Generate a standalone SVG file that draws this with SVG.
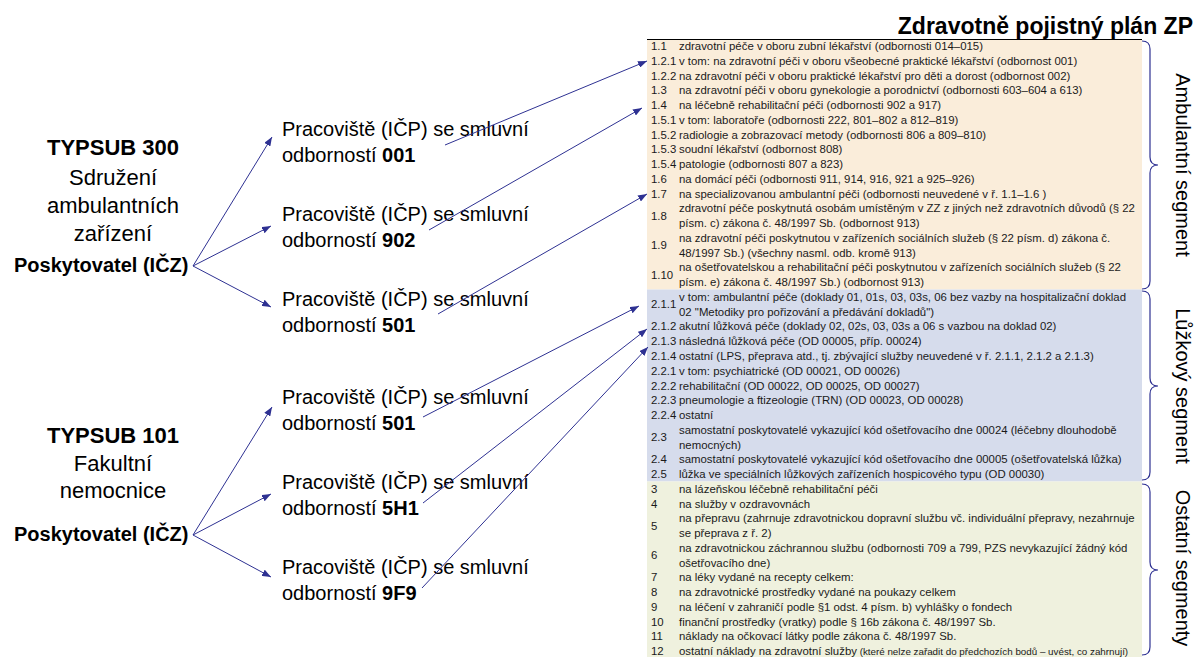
<svg xmlns="http://www.w3.org/2000/svg" width="1200" height="657" viewBox="0 0 1200 657">
<style>
.t{font-family:"Liberation Sans",Arial,sans-serif;font-size:11.4px;fill:#1a1a1a;white-space:pre}
.sm{font-size:9.8px}
.lbl{font-family:"Liberation Sans",Arial,sans-serif;fill:#000}
.b{font-weight:bold}
.conn{stroke:#2E3192;stroke-width:1;fill:none;marker-end:url(#ah)}
.brace{stroke:#2E3192;stroke-width:1.2;fill:none}
.seg{font-family:"Liberation Sans",Arial,sans-serif;font-size:20px;fill:#000}
</style>
<defs>
<marker id="ah" viewBox="0 0 9 7" refX="9" refY="3.5" markerWidth="9" markerHeight="7" markerUnits="userSpaceOnUse" orient="auto">
<path d="M0,0 L9,3.5 L0,7 z" fill="#2E3192"/>
</marker>
</defs>
<rect width="1200" height="657" fill="#fff"/>

<g id="title">
<text class="lbl b" x="1193" y="34" font-size="23" text-anchor="end">Zdravotně pojistný plán ZP</text>
</g>

<g id="table">
<rect x="647" y="39" width="495" height="250.5" fill="#FAEDDA"/>
<rect x="647" y="289.5" width="495" height="192" fill="#D6DCEC"/>
<rect x="647" y="481.5" width="495" height="176" fill="#EFF1DE"/>
<line x1="647" y1="39.5" x2="1142" y2="39.5" stroke="#000" stroke-width="1.2"/>
<g class="t" xml:space="preserve">
<text x="651" y="50">1.1</text><text x="679" y="50">zdravotní péče v oboru zubní lékařství (odbornosti 014–015)</text>
<text x="651" y="64.8">1.2.1</text><text x="679" y="64.8">v tom:  na zdravotní péči v oboru všeobecné praktické lékařství (odbornost 001)</text>
<text x="651" y="79.5">1.2.2</text><text x="679" y="79.5">na zdravotní péči v oboru praktické lékařství pro děti a dorost (odbornost 002)</text>
<text x="651" y="94.3">1.3</text><text x="679" y="94.3">na zdravotní péči v oboru gynekologie a porodnictví (odbornosti 603–604 a 613)</text>
<text x="651" y="109">1.4</text><text x="679" y="109">na léčebně rehabilitační péči (odbornosti 902 a 917)</text>
<text x="651" y="123.8">1.5.1</text><text x="679" y="123.8">v tom:  laboratoře (odbornosti 222, 801–802 a 812–819)</text>
<text x="651" y="138.6">1.5.2</text><text x="679" y="138.6">radiologie a zobrazovací metody (odbornosti 806 a 809–810)</text>
<text x="651" y="153.3">1.5.3</text><text x="679" y="153.3">soudní lékařství (odbornost 808)</text>
<text x="651" y="168.1">1.5.4</text><text x="679" y="168.1">patologie (odbornosti 807 a 823)</text>
<text x="651" y="182.8">1.6</text><text x="679" y="182.8">na domácí péči (odbornosti 911, 914, 916, 921 a 925–926)</text>
<text x="651" y="197.6">1.7</text><text x="679" y="197.6">na specializovanou ambulantní péči (odbornosti neuvedené v ř. 1.1–1.6 )</text>
<text x="651" y="219.8">1.8</text><text x="679" y="212.4">zdravotní péče poskytnutá osobám umístěným v ZZ z jiných než zdravotních důvodů (§ 22</text><text x="679" y="227.1">písm. c) zákona č. 48/1997 Sb. (odbornost 913)</text>
<text x="651" y="249.3">1.9</text><text x="679" y="241.9">na zdravotní péči poskytnutou v zařízeních sociálních služeb (§ 22 písm. d) zákona č.</text><text x="679" y="256.6">48/1997 Sb.) (všechny nasml. odb. kromě 913)</text>
<text x="651" y="278.8">1.10</text><text x="679" y="271.4">na ošetřovatelskou a rehabilitační péči poskytnutou v zařízeních sociálních služeb (§ 22</text><text x="679" y="286.2">písm. e) zákona č. 48/1997 Sb.) (odbornost 913)</text>
<text x="651" y="308.3">2.1.1</text><text x="679" y="300.9">v tom:  ambulantní péče (doklady 01, 01s, 03, 03s, 06 bez vazby na hospitalizační doklad</text><text x="679" y="315.7">02 "Metodiky pro pořizování a předávání dokladů")</text>
<text x="651" y="330.4">2.1.2</text><text x="679" y="330.4">akutní lůžková péče (doklady 02, 02s, 03, 03s a 06 s vazbou na doklad 02)</text>
<text x="651" y="345.2">2.1.3</text><text x="679" y="345.2">následná lůžková péče (OD 00005, příp. 00024)</text>
<text x="651" y="360">2.1.4</text><text x="679" y="360">ostatní (LPS, přeprava atd., tj. zbývající služby neuvedené v ř. 2.1.1, 2.1.2 a 2.1.3)</text>
<text x="651" y="374.7">2.2.1</text><text x="679" y="374.7">v tom:  psychiatrické (OD 00021, OD 00026)</text>
<text x="651" y="389.5">2.2.2</text><text x="679" y="389.5">rehabilitační (OD 00022, OD 00025, OD 00027)</text>
<text x="651" y="404.2">2.2.3</text><text x="679" y="404.2">pneumologie a ftizeologie (TRN) (OD 00023, OD 00028)</text>
<text x="651" y="419">2.2.4</text><text x="679" y="419">ostatní</text>
<text x="651" y="441.2">2.3</text><text x="679" y="433.8">samostatní poskytovatelé vykazující kód ošetřovacího dne 00024 (léčebny dlouhodobě</text><text x="679" y="448.5">nemocných)</text>
<text x="651" y="463.3">2.4</text><text x="679" y="463.3">samostatní poskytovatelé vykazující kód ošetřovacího dne 00005 (ošetřovatelská lůžka)</text>
<text x="651" y="478">2.5</text><text x="679" y="478">lůžka ve speciálních lůžkových zařízeních hospicového typu (OD 00030)</text>
<text x="651" y="492.8">3</text><text x="679" y="492.8">na lázeňskou léčebně rehabilitační péči</text>
<text x="651" y="507.6">4</text><text x="679" y="507.6">na služby v ozdravovnách</text>
<text x="651" y="529.7">5</text><text x="679" y="522.3">na přepravu (zahrnuje zdravotnickou dopravní službu vč. individuální přepravy, nezahrnuje</text><text x="679" y="537.1">se přeprava z ř. 2)</text>
<text x="651" y="559.2">6</text><text x="679" y="551.8">na zdravotnickou záchrannou službu (odbornosti 709 a 799, PZS nevykazující žádný kód</text><text x="679" y="566.6">ošetřovacího dne)</text>
<text x="651" y="581.4">7</text><text x="679" y="581.4">na léky vydané na recepty celkem:</text>
<text x="651" y="596.1">8</text><text x="679" y="596.1">na zdravotnické prostředky vydané na poukazy celkem</text>
<text x="651" y="610.9">9</text><text x="679" y="610.9">na léčení v zahraničí podle §1 odst. 4 písm. b) vyhlášky o fondech</text>
<text x="651" y="625.6">10</text><text x="679" y="625.6">finanční prostředky (vratky) podle § 16b zákona č. 48/1997 Sb.</text>
<text x="651" y="640.4">11</text><text x="679" y="640.4">náklady na očkovací látky podle zákona č. 48/1997 Sb.</text>
<text x="651" y="655.2">12</text><text x="679" y="655.2">ostatní náklady na zdravotní služby<tspan class="sm"> (které nelze zařadit do předchozích bodů – uvést, co zahrnují)</tspan></text>
</g>
</g>

<g id="segments">
<path class="brace" d="M1142,41 Q1150,41 1150,49 L1150,157 Q1150,165 1158,165 Q1150,165 1150,173 L1150,281 Q1150,289 1142,289"/>
<path class="brace" d="M1142,291 Q1150,291 1150,299 L1150,378 Q1150,386 1158,386 Q1150,386 1150,394 L1150,472 Q1150,480 1142,480"/>
<path class="brace" d="M1142,484 Q1150,484 1150,492 L1150,562 Q1150,570 1158,570 Q1150,570 1150,578 L1150,647 Q1150,655 1142,655"/>
<text class="seg" text-anchor="middle" transform="translate(1176,165) rotate(90)">Ambulantní segment</text>
<text class="seg" text-anchor="middle" transform="translate(1176,386) rotate(90)">Lůžkový segment</text>
<text class="seg" text-anchor="middle" transform="translate(1176,568) rotate(90)">Ostatní segmenty</text>
</g>

<g id="provider300">
<text class="lbl b" x="113" y="155" font-size="22" text-anchor="middle">TYPSUB 300</text>
<text class="lbl" x="113" y="185" font-size="22" text-anchor="middle">Sdružení</text>
<text class="lbl" x="113" y="213" font-size="22" text-anchor="middle">ambulantních</text>
<text class="lbl" x="113" y="241" font-size="22" text-anchor="middle">zařízení</text>
<text class="lbl b" x="14" y="272" font-size="20">Poskytovatel (IČZ)</text>
</g>

<g id="provider101">
<text class="lbl b" x="113" y="443" font-size="22" text-anchor="middle">TYPSUB 101</text>
<text class="lbl" x="113" y="471" font-size="22" text-anchor="middle">Fakultní</text>
<text class="lbl" x="113" y="498" font-size="22" text-anchor="middle">nemocnice</text>
<text class="lbl b" x="14" y="541" font-size="20">Poskytovatel (IČZ)</text>
</g>

<g id="ws001"><text class="lbl" x="282" y="136" font-size="20">Pracoviště (IČP) se smluvní</text><text class="lbl" x="282" y="162" font-size="20">odborností <tspan class="b">001</tspan></text></g>
<g id="ws902"><text class="lbl" x="282" y="221" font-size="20">Pracoviště (IČP) se smluvní</text><text class="lbl" x="282" y="247" font-size="20">odborností <tspan class="b">902</tspan></text></g>
<g id="ws501a"><text class="lbl" x="282" y="306" font-size="20">Pracoviště (IČP) se smluvní</text><text class="lbl" x="282" y="332" font-size="20">odborností <tspan class="b">501</tspan></text></g>
<g id="ws501b"><text class="lbl" x="282" y="404" font-size="20">Pracoviště (IČP) se smluvní</text><text class="lbl" x="282" y="430" font-size="20">odborností <tspan class="b">501</tspan></text></g>
<g id="ws5H1"><text class="lbl" x="282" y="489" font-size="20">Pracoviště (IČP) se smluvní</text><text class="lbl" x="282" y="515" font-size="20">odborností <tspan class="b">5H1</tspan></text></g>
<g id="ws9F9"><text class="lbl" x="282" y="574" font-size="20">Pracoviště (IČP) se smluvní</text><text class="lbl" x="282" y="600" font-size="20">odborností <tspan class="b">9F9</tspan></text></g>

<g id="connectors">
<line class="conn" x1="193" y1="266" x2="272" y2="137"/>
<line class="conn" x1="193" y1="266" x2="271" y2="226"/>
<line class="conn" x1="193" y1="266" x2="271" y2="307"/>
<line class="conn" x1="193" y1="535" x2="272" y2="407"/>
<line class="conn" x1="193" y1="535" x2="271" y2="494"/>
<line class="conn" x1="193" y1="535" x2="271" y2="577"/>
<line class="conn" x1="445" y1="145" x2="647" y2="61"/>
<line class="conn" x1="429" y1="230" x2="642" y2="108"/>
<line class="conn" x1="438" y1="314" x2="647" y2="194"/>
<line class="conn" x1="423" y1="417" x2="639" y2="306"/>
<line class="conn" x1="423" y1="503" x2="647" y2="329"/>
<line class="conn" x1="422" y1="588" x2="648" y2="347"/>
</g>
</svg>
